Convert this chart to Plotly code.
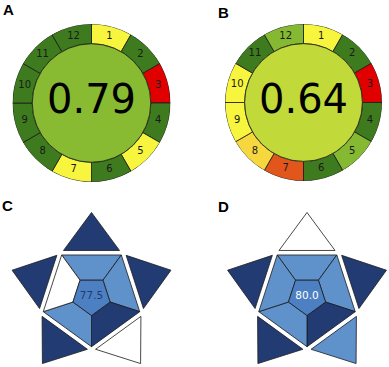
import numpy as np
import plotly.graph_objects as go

W, H = 389, 367

# A, B: AGREE-style wheels, score of each of the 12 principles and the overall score
principles = list(range(1, 13))
scores_a = [0.5, 1.0, 0.0, 1.0, 0.5, 1.0, 0.5, 1.0, 1.0, 1.0, 1.0, 1.0]
scores_b = [0.5, 1.0, 0.0, 1.0, 0.8, 1.0, 0.25, 0.45, 0.5, 0.5, 1.0, 0.8]
total_a = 0.79
total_b = 0.64

# C, D: pentagon pictograms, clockwise from the top (0 = not met, 1 = partly, 2 = fully)
tri_c = [2, 2, 0, 2, 2]
seg_c = [1, 1, 2, 1, 0]
total_c = 77.5
tri_d = [0, 2, 1, 2, 2]
seg_d = [1, 1, 2, 1, 1]
total_d = 80.0

AGREE_SCALE = [[0.0, "#e00000"], [0.25, "#e3561b"], [0.45, "#f6d73d"],
               [0.5, "#f7f53d"], [0.64, "#c2d93a"], [0.8, "#84b931"],
               [1.0, "#3e7b1e"]]
LEVEL_COLORS = {0: "#ffffff", 1: "#5f91cb", 2: "#223b72"}
INNER_COLOR = "#4d80c3"
EDGE = "#1a1a1a"


def add_wheel(fig, name, scores, total, cx, cy, rad):
    dom = dict(x=[(cx - rad) / W, (cx + rad) / W],
               y=[1 - (cy + rad) / H, 1 - (cy - rad) / H])
    theta = [15 + 30 * (p - 1) for p in principles]
    fig.add_trace(go.Barpolar(
        r=[0.25] * 12, base=[0.75] * 12, theta=theta, width=[30] * 12,
        marker=dict(color=scores, colorscale=AGREE_SCALE, cmin=0, cmax=1,
                    line=dict(color=EDGE, width=0.8)),
        subplot=name, hoverinfo="skip"))
    fig.add_trace(go.Barpolar(
        r=[0.75], base=[0], theta=[0], width=[360],
        marker=dict(color=[total], colorscale=AGREE_SCALE, cmin=0, cmax=1,
                    line=dict(color=EDGE, width=0.8)),
        subplot=name, hoverinfo="skip"))
    fig.add_trace(go.Scatterpolar(
        r=[0.875] * 12, theta=theta, mode="text",
        text=[str(p) for p in principles],
        textfont=dict(size=10, color="#1a1a1a", family="DejaVu Sans"),
        subplot=name, hoverinfo="skip"))
    fig.add_trace(go.Scatterpolar(
        r=[0], theta=[0], mode="text", text=[f"{total:.2f}"],
        textfont=dict(size=40, color="#000000", family="DejaVu Sans"),
        subplot=name, hoverinfo="skip"))
    fig.update_layout(**{name: dict(
        domain=dom, bgcolor="rgba(0,0,0,0)", hole=0,
        angularaxis=dict(visible=False, rotation=90, direction="clockwise"),
        radialaxis=dict(visible=False, range=[0, 1]))})


def pt(cx, cy, r, ang):
    a = np.radians(ang)
    return cx + r * np.sin(a), cy - r * np.cos(a)


def poly(fig, xs, ys, color):
    fig.add_trace(go.Scatter(
        x=list(xs) + [xs[0]], y=list(ys) + [ys[0]], mode="lines",
        fill="toself", fillcolor=color, line=dict(color=EDGE, width=0.8),
        hoverinfo="skip"))


def add_star(fig, tris, segs, total, cx, cy, text_color,
             r_out=50.7, r_in=19.5, gap=4.5, half_base=28, tri_h=38):
    d_base = r_out * np.cos(np.radians(36)) + gap
    for k in range(5):
        a = 72 * k
        # trapezoid on edge k
        o0 = pt(cx, cy, r_out, a - 36)
        o1 = pt(cx, cy, r_out, a + 36)
        i1 = pt(cx, cy, r_in, a + 36)
        i0 = pt(cx, cy, r_in, a - 36)
        poly(fig, [o0[0], o1[0], i1[0], i0[0]], [o0[1], o1[1], i1[1], i0[1]],
             LEVEL_COLORS[segs[k]])
    xs, ys = zip(*[pt(cx, cy, r_in, 36 + 72 * k) for k in range(5)])
    poly(fig, xs, ys, INNER_COLOR)
    for k in range(5):
        a = 72 * k
        mx, my = pt(cx, cy, d_base, a)
        px, py = pt(0, 0, half_base, a + 90)
        ax, ay = pt(cx, cy, d_base + tri_h, a)
        poly(fig, [mx + px, ax, mx - px], [my + py, ay, my - py],
             LEVEL_COLORS[tris[k]])
    fig.add_trace(go.Scatter(
        x=[cx], y=[cy], mode="text", text=[f"{total:.1f}"],
        textfont=dict(size=10.5, color=text_color, family="DejaVu Sans"),
        hoverinfo="skip"))


fig = go.Figure()
add_star(fig, tri_c, seg_c, total_c, 91.5, 296, "#223b72")
add_star(fig, tri_d, seg_d, total_d, 307, 296, "#ffffff")
add_wheel(fig, "polar", scores_a, total_a, 91.5, 103, 79)
add_wheel(fig, "polar2", scores_b, total_b, 303.5, 102.5, 78.5)

for lab, x, y in [("A", 8.5, 9.5), ("B", 223, 12.5), ("C", 7.5, 205.5), ("D", 223, 206.5)]:
    fig.add_annotation(x=x / W, y=1 - y / H, xref="paper", yref="paper",
                       xanchor="center", yanchor="middle",
                       text=f"<b>{lab}</b>", showarrow=False,
                       font=dict(size=15, color="#000000", family="Liberation Sans"))

fig.update_layout(
    width=W, height=H, margin=dict(l=0, r=0, t=0, b=0),
    paper_bgcolor="white", plot_bgcolor="white", showlegend=False,
    xaxis=dict(visible=False, range=[0, W], domain=[0, 1], fixedrange=True),
    yaxis=dict(visible=False, range=[H, 0], domain=[0, 1], fixedrange=True),
)
fig.write_html("out.html", config={"displayModeBar": False},
               post_script="document.body.style.margin='0px';")
